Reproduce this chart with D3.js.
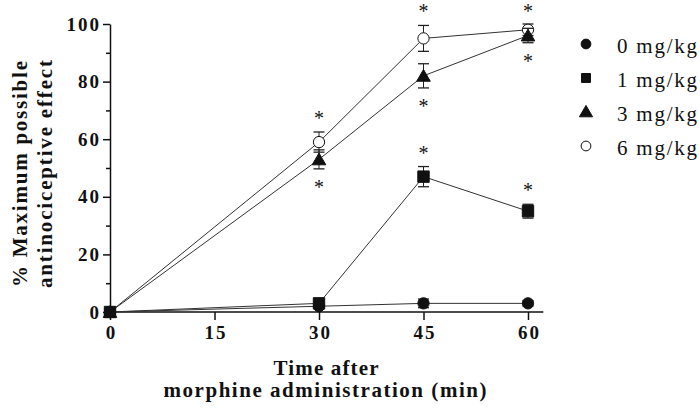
<!DOCTYPE html>
<html><head><meta charset="utf-8">
<script src="https://cdn.jsdelivr.net/npm/d3@7"></script>
<style>
html,body{margin:0;padding:0;background:#fff;}
svg{display:block;}
text{font-family:"Liberation Serif","Times New Roman",serif;fill:#111;}
</style></head>
<body>
<svg id="chart" width="700" height="410"></svg>
<script>
// ---- data ----
const times = [0, 30, 45, 60];
const xTicks = [0, 15, 30, 45, 60];
const yMajorTicks = [0, 20, 40, 60, 80, 100];
const yMinorTicks = [10, 30, 50, 70, 90];
const seriesNames = ["0 mg/kg", "1 mg/kg", "3 mg/kg", "6 mg/kg"];
const mean0 = [0, 2, 3, 3];     const sem0 = [0, 0.5, 1.5, 1];
const mean1 = [0, 3, 47, 35];   const sem1 = [0, 0.8, 3.5, 2.4];
const mean3 = [0, 53, 82, 96];  const sem3 = [0, 3.3, 4.2, 2.5];
const mean6 = [0, 59, 95, 98];  const sem6 = [0, 3.5, 4.5, 2];
// significance markers: time points with asterisk
const sig1 = [45, 60];      // above
const sig3 = [30, 45, 60];  // below
const sig6 = [30, 45, 60];  // above

const series = [
  {name: seriesNames[0], mean: mean0, sem: sem0, shape: "circle", fill: "#111", sig: [], side: 0},
  {name: seriesNames[1], mean: mean1, sem: sem1, shape: "square", fill: "#111", sig: sig1, side: -1},
  {name: seriesNames[2], mean: mean3, sem: sem3, shape: "triangle", fill: "#111", sig: sig3, side: 1},
  {name: seriesNames[3], mean: mean6, sem: sem6, shape: "circle", fill: "#fff", sig: sig6, side: -1}
];
const drawOrder = [3, 2, 0, 1];

const svg = d3.select("#chart");
const x = d3.scaleLinear().domain([0, 60]).range([110, 528]);
const y = d3.scaleLinear().domain([0, 100]).range([312, 24]);
const xAxisEnd = 62.2;

function shapePath(shape, size) {
  const t = shape === "circle" ? d3.symbolCircle : shape === "square" ? d3.symbolSquare : d3.symbolTriangle;
  return d3.symbol().type(t).size(size)();
}
const sizes = {circle: 100, square: 130, triangle: 80};
const FONT = '"Liberation Serif","Times New Roman",serif';

// axes
const gy = svg.append("g").attr("transform", `translate(${x(0)},0)`);
gy.call(d3.axisLeft(y).tickValues(yMinorTicks).tickSize(4).tickSizeOuter(0).tickFormat(""));
const gy2 = svg.append("g").attr("transform", `translate(${x(0)},0)`);
gy2.call(d3.axisLeft(y).tickValues(yMajorTicks).tickSize(7).tickSizeOuter(0).tickPadding(4));
gy2.select(".domain").remove();
gy.select(".domain").attr("stroke", "#111").attr("stroke-width", 1.5);
svg.selectAll("g .tick line").attr("stroke", "#111").attr("stroke-width", 1.5);
gy2.selectAll(".tick text").attr("font-size", 19).attr("font-weight", "bold").attr("letter-spacing", 2)
  .attr("font-family", FONT).attr("fill", "#111").attr("dx", 2);

const gx = svg.append("g").attr("transform", `translate(0,${y(0)})`);
gx.call(d3.axisBottom(x).tickValues(xTicks).tickSize(8).tickSizeOuter(0).tickPadding(6));
gx.select(".domain").remove();
gx.append("line").attr("x1", x(0)).attr("x2", x(xAxisEnd)).attr("y1", 0).attr("y2", 0)
  .attr("stroke", "#111").attr("stroke-width", 1.5);
gx.selectAll(".tick line").attr("stroke", "#111").attr("stroke-width", 1.5);
gx.selectAll(".tick text").attr("font-size", 19).attr("font-weight", "bold").attr("letter-spacing", 2)
  .attr("font-family", FONT).attr("fill", "#111").attr("dx", 1);

// lines
const line = d3.line().x((d, i) => x(times[i])).y(d => y(d));
drawOrder.forEach(k => {
  const s = series[k];
  svg.append("path").attr("d", line(s.mean)).attr("fill", "none").attr("stroke", "#333").attr("stroke-width", 1);
});
// error bars, markers, asterisks
drawOrder.forEach(k => {
  const s = series[k];
  const g = svg.append("g");
  s.mean.forEach((m, i) => {
    if (s.sem[i] > 0) {
      const cx = x(times[i]), y1 = y(m + s.sem[i]), y2 = y(m - s.sem[i]);
      g.append("line").attr("x1", cx).attr("x2", cx).attr("y1", y1).attr("y2", y2).attr("stroke", "#222").attr("stroke-width", 1);
      [y1, y2].forEach(yy => g.append("line").attr("x1", cx - 5.5).attr("x2", cx + 5.5).attr("y1", yy).attr("y2", yy)
        .attr("stroke", "#222").attr("stroke-width", 1.3));
    }
  });
  s.mean.forEach((m, i) => {
    const dy = s.shape === "triangle" ? 1.5 : 0;
    g.append("path").attr("d", shapePath(s.shape, sizes[s.shape]))
      .attr("transform", `translate(${x(times[i])},${y(m) + dy})`)
      .attr("fill", s.fill).attr("stroke", "#111").attr("stroke-width", 1);
  });
  s.sig.forEach(t => {
    const i = times.indexOf(t);
    const cap = s.side < 0 ? y(s.mean[i] + s.sem[i]) : y(s.mean[i] - s.sem[i]);
    const cy = cap + s.side * 16;
    g.append("text").attr("x", x(t)).attr("y", Math.max(cy + 9, 18)).attr("text-anchor", "middle")
      .attr("font-size", 20).attr("font-weight", "normal").text("*");
  });
});

// axis titles
const yt = svg.append("g").attr("transform", "translate(0,174) rotate(-90)");
yt.append("text").attr("x", 0).attr("y", 27).attr("text-anchor", "middle").attr("font-size", 21)
  .attr("font-weight", "bold").attr("textLength", 226).attr("lengthAdjust", "spacing").text("% Maximum possible");
yt.append("text").attr("x", 0).attr("y", 52).attr("text-anchor", "middle").attr("font-size", 21)
  .attr("font-weight", "bold").attr("textLength", 228).attr("lengthAdjust", "spacing").text("antinociceptive effect");
svg.append("text").attr("x", 326).attr("y", 375).attr("text-anchor", "middle").attr("font-size", 21)
  .attr("font-weight", "bold").attr("textLength", 105).attr("lengthAdjust", "spacing").text("Time after");
svg.append("text").attr("x", 325).attr("y", 397).attr("text-anchor", "middle").attr("font-size", 21)
  .attr("font-weight", "bold").attr("textLength", 323).attr("lengthAdjust", "spacing").text("morphine administration (min)");

// legend
const legendRows = [53, 87, 121, 155];
series.forEach((s, k) => {
  const ly = legendRows[k];
  svg.append("path").attr("d", shapePath(s.shape, s.shape === "square" ? 80 : 75))
    .attr("transform", `translate(586,${ly - 9 + (s.shape === "triangle" ? 1 : 0)})`)
    .attr("fill", s.fill).attr("stroke", "#111").attr("stroke-width", 1);
  svg.append("text").attr("x", 617).attr("y", ly).attr("font-size", 21)
    .attr("textLength", 80).attr("lengthAdjust", "spacing").text(s.name);
});
</script>
</body></html>
